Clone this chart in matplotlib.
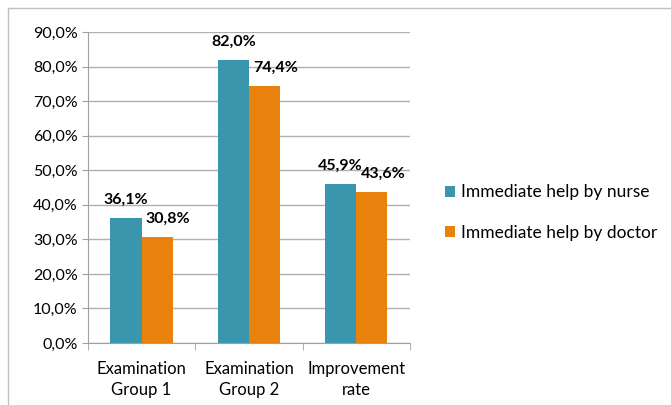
import numpy as np
from matplotlib import pyplot as plt
from matplotlib.lines import Line2D
from matplotlib.ticker import FuncFormatter

categories = ["Examination\nGroup 1", "Examination\nGroup 2", "Improvement\nrate"]
nurse = [36.1, 82.0, 45.9]
doctor = [30.8, 74.4, 43.6]
series_names = ["Immediate help by nurse", "Immediate help by doctor"]
colors = ["#3a96ad", "#e8820c"]

plt.rcParams["font.family"] = ["Lato", "DejaVu Sans"]

fig = plt.figure(figsize=(6.71, 4.05), dpi=100)
ax = fig.add_axes([0.131, 0.153, 0.48, 0.768])

x = np.arange(len(categories))
w = 0.29
b1 = ax.bar(x - w / 2, nurse, w, color=colors[0], label=series_names[0], zorder=3)
b2 = ax.bar(x + w / 2, doctor, w, color=colors[1], label=series_names[1], zorder=3)

def fmt(v):
    return f"{v:.1f}%".replace(".", ",")

for rect, v in zip(b1, nurse):
    ax.annotate(fmt(v), (rect.get_x() + rect.get_width() / 2, v),
                xytext=(0, 8), textcoords="offset points", ha="center", va="bottom",
                fontsize=11.5, fontweight="bold")
for rect, v in zip(b2, doctor):
    ax.annotate(fmt(v), (rect.get_x() + rect.get_width() / 2, v),
                xytext=(8, 8), textcoords="offset points", ha="center", va="bottom",
                fontsize=11.5, fontweight="bold")

ax.set_ylim(0, 90)
ax.set_xlim(-0.5, 2.5)
ax.set_yticks(np.arange(0, 91, 10))
ax.yaxis.set_major_formatter(FuncFormatter(lambda v, p: fmt(v)))
ax.set_xticks(x)
ax.set_xticklabels(categories, fontsize=12, linespacing=1.35)
ax.set_xticks([-0.5, 0.5, 1.5, 2.5], minor=True)
ax.tick_params(axis="x", which="major", length=0, pad=13)
ax.tick_params(axis="x", which="minor", length=5, color="#a0a0a0")
ax.tick_params(axis="y", length=4, color="#a0a0a0", labelsize=11.5)
ax.grid(axis="y", color="#b0b0b0", linewidth=1, zorder=0)
for s in ["top", "right"]:
    ax.spines[s].set_visible(False)
for s in ["left", "bottom"]:
    ax.spines[s].set_color("#a0a0a0")

ax.legend(loc="center left", bbox_to_anchor=(1.06, 0.42), frameon=False,
          fontsize=12.5, handlelength=0.6, handleheight=0.6, handletextpad=0.35,
          labelspacing=1.4)

# outer chart border (partially visible)
fig.add_artist(Line2D([8 / 671, 8 / 671], [0, 1 - 8 / 405], color="#c0c0c0", lw=1))
fig.add_artist(Line2D([8 / 671, 1], [1 - 8 / 405, 1 - 8 / 405], color="#c0c0c0", lw=1))

fig.savefig("out.png", dpi=100)
